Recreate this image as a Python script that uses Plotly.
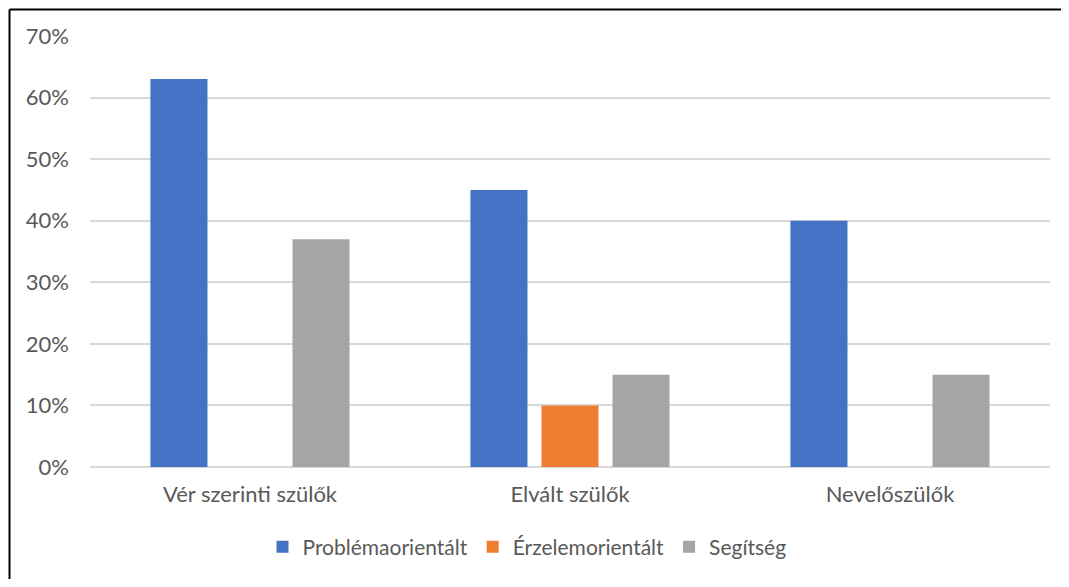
import plotly.graph_objects as go

categories = ["Vér szerinti szülők", "Elvált szülők", "Nevelőszülők"]
problemaorientalt = [0.63, 0.45, 0.40]
erzelemorientalt = [0.0, 0.10, 0.0]
segitseg = [0.37, 0.15, 0.15]
series_names = ["Problémaorientált", "Érzelemorientált", "Segítség"]
colors = ["#4472C4", "#ED7D31", "#A5A5A5"]

FONT = "Lato, 'Open Sans', sans-serif"
TXT = "#595959"
FS = 22

# page body has an 8px margin on every side; figure starts at (8, 8)
OFF = 8
W, H = 1069 - 2 * OFF, 587 - 2 * OFF
L, R, T, B = 90 - OFF, 19 - OFF, 36 - OFF, 120 - OFF
pw, ph = W - L - R, H - T - B

fig = go.Figure()
for name, vals, col in zip(series_names, [problemaorientalt, erzelemorientalt, segitseg], colors):
    fig.add_trace(go.Bar(x=categories, y=vals, name=name, marker_color=col,
                         marker_line_width=0))

fig.update_layout(
    width=W, height=H,
    margin=dict(l=L, r=R, t=T, b=B),
    paper_bgcolor="white", plot_bgcolor="white",
    barmode="group", bargap=0.334, bargroupgap=0.197,
    font=dict(family=FONT, size=FS, color=TXT),
    legend=dict(orientation="h", x=(527 - 90) / pw, xanchor="center",
                y=(467 - 547) / ph, yanchor="middle",
                font=dict(size=21, color=TXT), itemwidth=30,
                traceorder="normal"),
    showlegend=True,
)
fig.update_yaxes(range=[0, 0.7], dtick=0.1, tickformat=".0%",
                 showgrid=True, gridcolor="#D9D9D9", gridwidth=1.5,
                 zeroline=True, zerolinecolor="#D9D9D9", zerolinewidth=1.5,
                 showline=False, ticks="", ticklabelstandoff=20,
                 tickfont=dict(size=FS, color=TXT))
fig.update_xaxes(showline=False, ticks="", ticklabelstandoff=12,
                 tickfont=dict(size=FS, color=TXT))

# chart border (top and left visible)
bx = (1.5 - L) / pw
by = 1 + (T - 1.5) / ph
fig.add_shape(type="line", xref="paper", yref="paper",
              x0=bx, x1=1 + R / pw, y0=by, y1=by, line=dict(color="black", width=2))
fig.add_shape(type="line", xref="paper", yref="paper",
              x0=bx, x1=bx, y0=-B / ph, y1=by, line=dict(color="black", width=2))

fig.write_html("out.html")
